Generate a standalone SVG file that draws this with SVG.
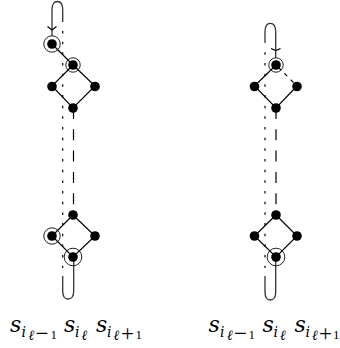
<svg xmlns="http://www.w3.org/2000/svg" width="340" height="348" viewBox="0 0 340 348">
<style>
.l{fill:none;stroke:#000;stroke-width:1.2}
.t{fill:none;stroke:#333;stroke-width:1.3}
.dd{fill:none;stroke:#000;stroke-width:1.2;stroke-dasharray:2.500 8.170}
.da{fill:none;stroke:#000;stroke-width:1.2;stroke-dasharray:11 10.300}
.n{fill:#000}
.r{fill:none;stroke:#222;stroke-width:1}
text{fill:#000}
.s{font-family:"DejaVu Serif",serif;font-style:italic;font-size:22px}
.b{font-family:"DejaVu Serif",serif;font-style:italic;font-size:14px}
.u{font-family:"Liberation Serif",serif;font-size:13px}
.o{font-family:"Liberation Serif",serif;font-size:23px}
</style>
<g id="connectors">
<path class="l" d="M52 44L73 65M73 65L52 86L73 108L95 86L73 65M73 215L52 236L73 257L95 236L73 215"/>
<path class="t" d="M52 36V10C52 4 54 1.500 57.500 1.500C61 1.500 62.700 4 62.700 10V22"/>
<path class="l" d="M47.500 26.500L52 30L56.500 26.500"/>
<path class="dd" d="M62.700 31V268"/>
<path class="da" d="M73.500 108V208"/>
<path class="t" d="M73.700 257V291C73.700 297 71 299 68 299C64.500 299 62.700 297 62.700 291V276"/>
<path class="l" d="M276 65L254.500 86L276 108L297 86M276 215L254.500 236L276 257L297 236L276 215"/>
<path class="l" stroke-dasharray="4 5" d="M278 67L297 86"/>
<path class="t" d="M275.700 58V32C275.700 26 273.500 23.300 270.300 23.300C267 23.300 265 26 265 32V43"/>
<path class="l" d="M271 48.500L275.700 50.500L280.500 48.500"/>
<path class="dd" d="M265 52.300V268"/>
<path class="da" d="M276 108V208"/>
<path class="t" d="M275.700 257V292C275.700 298 273.500 300 270.300 300C267 300 265 298 265 292V276"/>
</g>
<g id="node-l1"><circle class="n" cx="52" cy="44" r="4.800"/><circle class="r" cx="52" cy="44" r="8.200"/></g>
<g id="node-l2"><circle class="n" cx="73" cy="65" r="4.800"/><circle class="r" cx="73" cy="65" r="7.200"/></g>
<g id="node-l3"><circle class="n" cx="52" cy="86.500" r="4.800"/></g>
<g id="node-l4"><circle class="n" cx="95" cy="86.500" r="4.800"/></g>
<g id="node-l5"><circle class="n" cx="73" cy="108" r="4.800"/></g>
<g id="node-l6"><circle class="n" cx="73" cy="215" r="4.800"/></g>
<g id="node-l7"><circle class="n" cx="52" cy="236" r="4.800"/><circle class="r" cx="52" cy="236" r="8.200"/></g>
<g id="node-l8"><circle class="n" cx="95" cy="236" r="4.800"/></g>
<g id="node-l9"><circle class="n" cx="73" cy="257" r="4.800"/><circle class="r" cx="73" cy="257" r="8.800"/></g>
<g id="node-r1"><circle class="n" cx="276" cy="65" r="4.800"/><circle class="r" cx="276" cy="65" r="7.200"/></g>
<g id="node-r2"><circle class="n" cx="254.500" cy="86.500" r="4.800"/></g>
<g id="node-r3"><circle class="n" cx="297" cy="86.500" r="4.800"/></g>
<g id="node-r4"><circle class="n" cx="276" cy="108" r="4.800"/></g>
<g id="node-r5"><circle class="n" cx="276" cy="215" r="4.800"/></g>
<g id="node-r6"><circle class="n" cx="254.500" cy="236" r="4.800"/></g>
<g id="node-r7"><circle class="n" cx="297" cy="236" r="4.800"/></g>
<g id="node-r8"><circle class="n" cx="276" cy="257" r="4.800"/><circle class="r" cx="276" cy="257" r="8.800"/></g>
<g id="label-left">
<text class="s" x="10" y="332">s</text><text class="b" x="21.500" y="337">i</text><text class="b" x="28.500" y="339.500">ℓ</text><text class="o" x="35.500" y="341">−</text><text class="u" x="50.500" y="339">1</text>
<text class="s" x="64" y="332">s</text><text class="b" x="75" y="337">i</text><text class="b" x="81.500" y="339.500">ℓ</text>
<text class="s" x="96" y="332">s</text><text class="b" x="107" y="337">i</text><text class="b" x="113.500" y="339.500">ℓ</text><text class="o" x="121" y="341">+</text><text class="u" x="135.500" y="339">1</text>
</g>
<g id="label-right">
<text class="s" x="208.500" y="332">s</text><text class="b" x="220" y="337">i</text><text class="b" x="227" y="339.500">ℓ</text><text class="o" x="234" y="341">−</text><text class="u" x="248.500" y="339">1</text>
<text class="s" x="262.500" y="332">s</text><text class="b" x="273.500" y="337">i</text><text class="b" x="280" y="339.500">ℓ</text>
<text class="s" x="294.500" y="332">s</text><text class="b" x="305.500" y="337">i</text><text class="b" x="312" y="339.500">ℓ</text><text class="o" x="319" y="341">+</text><text class="u" x="333" y="339">1</text>
</g>
</svg>
